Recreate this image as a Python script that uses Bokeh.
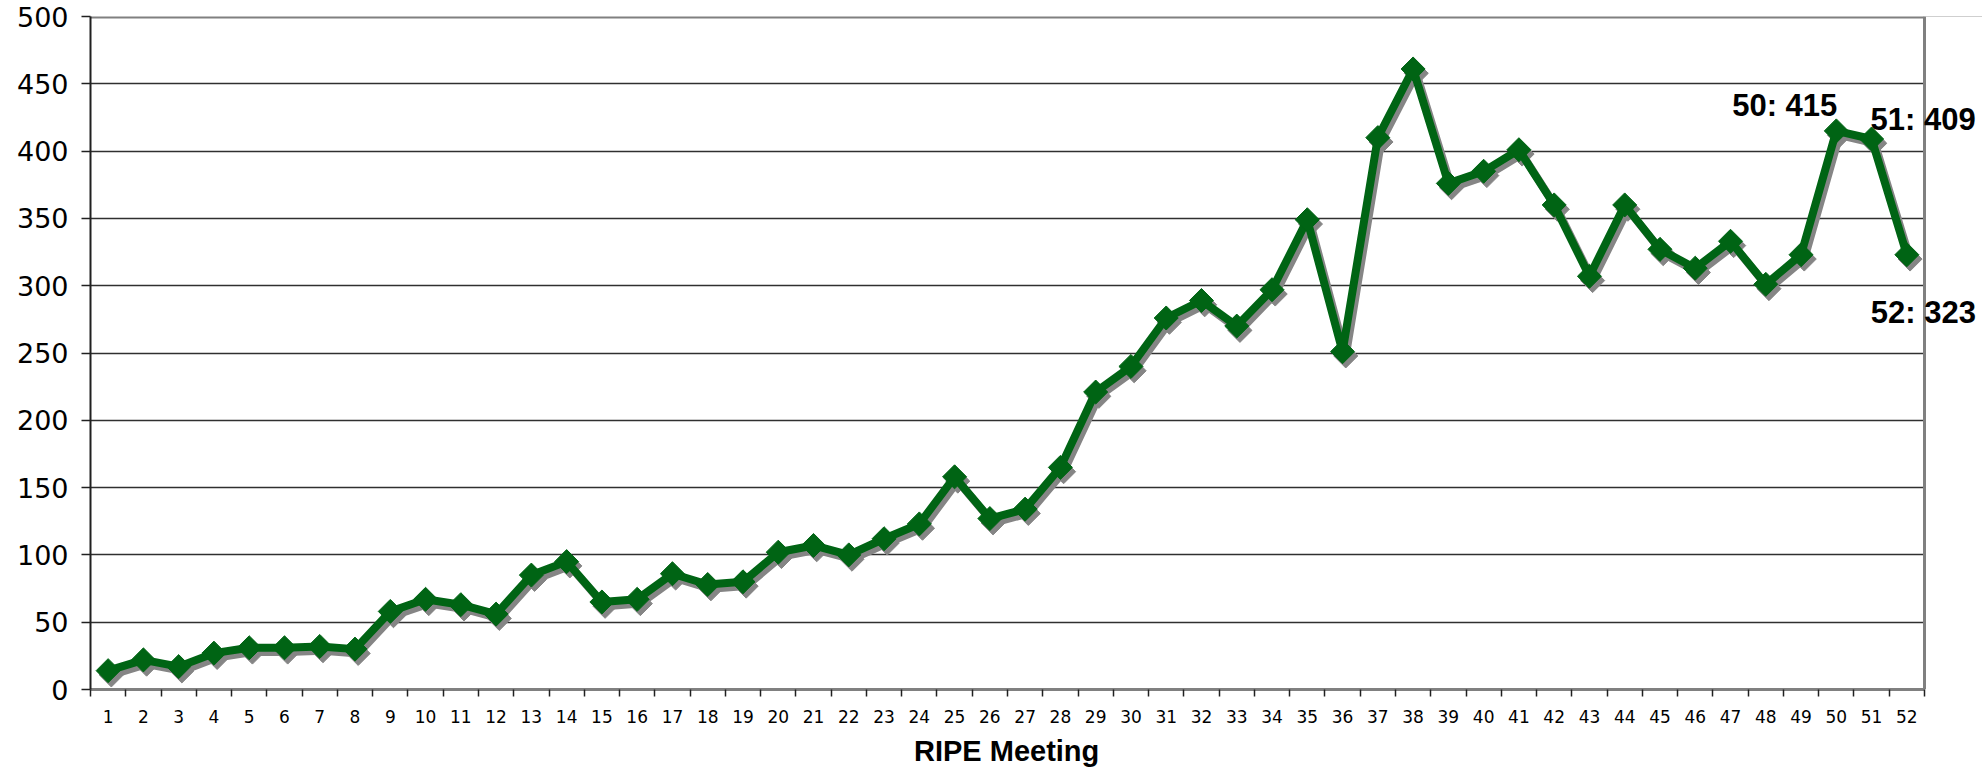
import math
from bokeh.plotting import figure
from bokeh.models import FixedTicker, Range1d, Label, BoxAnnotation, Span, Title
from bokeh.embed import file_html
from bokeh.resources import INLINE

meetings = list(range(1, 53))
attendees = [14, 22, 17, 27, 31, 31, 32, 30, 58, 67, 63, 56, 85, 95, 65, 67, 86, 78, 80, 102,
             107, 100, 112, 123, 158, 127, 134, 165, 221, 240, 276, 289, 270, 297, 349, 251,
             410, 461, 376, 385, 401, 360, 307, 360, 327, 313, 333, 301, 323, 415, 409, 323]
y_ticks = list(range(0, 501, 50))
labelled = [50, 51, 52]
x_title = "RIPE Meeting"

GREEN = "#006414"
SHADOW = "#858585"

# layout: plot area spans x 90..1924 px; the frame is extended to the canvas edge
# so the value labels at the right are not clipped
W, H = 1982, 773
LEFT, RIGHT_EDGE = 90, 1924
x0, x1 = 0.5, len(meetings) + 0.5
px_per_cat = (RIGHT_EDGE - LEFT) / (x1 - x0)
x_end = x1 + (W - RIGHT_EDGE) / px_per_cat

p = figure(width=W, height=H, x_range=Range1d(x0, x_end), y_range=Range1d(0, 500),
           output_backend="svg", toolbar_location=None,
           min_border_left=LEFT, min_border_right=0, min_border_top=16, min_border_bottom=0)
p.background_fill_color = "white"
p.border_fill_color = "white"
p.outline_line_color = None

# shadow via shifted ranges (same data, offset a few pixels right/down)
sx = 3.2 / px_per_cat
p.extra_x_ranges = {"sh": Range1d(x0 - sx, x_end - sx)}
p.extra_y_ranges = {"sh": Range1d(3.2, 503.2)}

# grid
p.xgrid.grid_line_color = None
p.ygrid.ticker = FixedTicker(ticks=y_ticks[:-1])
p.ygrid.grid_line_color = "#303030"
p.ygrid.grid_line_width = 1.5
p.add_layout(Span(location=y_ticks[-1], dimension="width", line_color="#808080",
                  line_width=4, level="underlay"))

# white cover right of the plot area (hides grid lines beyond the last category)
p.add_layout(BoxAnnotation(left=x1, fill_color="white", fill_alpha=1.0,
                           line_color=None, level="glyph"))
p.add_layout(Span(location=x1, dimension="height", line_color="#808080",
                  line_width=3, level="glyph"))

# y axis
p.yaxis.ticker = FixedTicker(ticks=y_ticks)
p.yaxis.axis_line_color = "#202020"
p.yaxis.axis_line_width = 2
p.yaxis.major_tick_out = 9
p.yaxis.major_tick_in = 0
p.yaxis.major_tick_line_color = "#202020"
p.yaxis.major_tick_line_width = 1.5
p.yaxis.minor_tick_line_color = None
p.yaxis.major_label_text_font = "DejaVu Sans"
p.yaxis.major_label_text_font_size = "27px"
p.yaxis.major_label_text_color = "black"
p.yaxis.major_label_standoff = 13

# x axis: labels at centers, tick marks at category boundaries
p.xaxis.bounds = (x0, x1)
p.xaxis.ticker = FixedTicker(ticks=meetings, minor_ticks=[m + 0.5 for m in [0] + meetings])
p.xaxis.major_label_overrides = {m: str(m) for m in meetings}
p.xaxis.axis_line_color = "#808080"
p.xaxis.axis_line_width = 3
p.xaxis.major_tick_line_color = None
p.xaxis.major_tick_out = 0
p.xaxis.major_tick_in = 0
p.xaxis.minor_tick_line_color = "#202020"
p.xaxis.minor_tick_line_width = 1.5
p.xaxis.minor_tick_out = 7
p.xaxis.minor_tick_in = 0
p.xaxis.major_label_text_font = "DejaVu Sans"
p.xaxis.major_label_text_font_size = "17px"
p.xaxis.major_label_text_color = "black"
p.xaxis.major_label_standoff = 13

# axis title, centred under the plot area (not the extended frame)
title_w = 187
p.add_layout(Title(text=x_title, align="left", offset=(RIGHT_EDGE - LEFT) / 2 - title_w / 2,
                   text_font="Liberation Sans", text_font_style="bold",
                   text_font_size="29px", text_color="black", standoff=14), "below")

# shadow
p.line(meetings, attendees, x_range_name="sh", y_range_name="sh",
       line_color=SHADOW, line_width=8, line_join="round")
p.scatter(meetings, attendees, x_range_name="sh", y_range_name="sh", marker="square",
          angle=math.pi / 4, size=17, fill_color=SHADOW, line_color=SHADOW)

# main series
p.line(meetings, attendees, line_color=GREEN, line_width=8, line_join="round")
p.scatter(meetings, attendees, marker="square", angle=math.pi / 4, size=17,
          fill_color=GREEN, line_color=GREEN)

# value annotations for the last meetings
offsets = {50: (1, 25, "right"), 51: (-1, 19, "left"), 52: (-36, -58, "left")}
for m in labelled:
    v = attendees[m - 1]
    dx, dy, align = offsets[m]
    p.add_layout(Label(x=m, y=v, x_offset=dx, y_offset=dy, text=f"{m}: {v}",
                       text_font="Liberation Sans", text_font_style="bold",
                       text_font_size="31px", text_color="black",
                       text_align=align, text_baseline="alphabetic"))

open("out.html", "w").write(file_html(p, INLINE))
